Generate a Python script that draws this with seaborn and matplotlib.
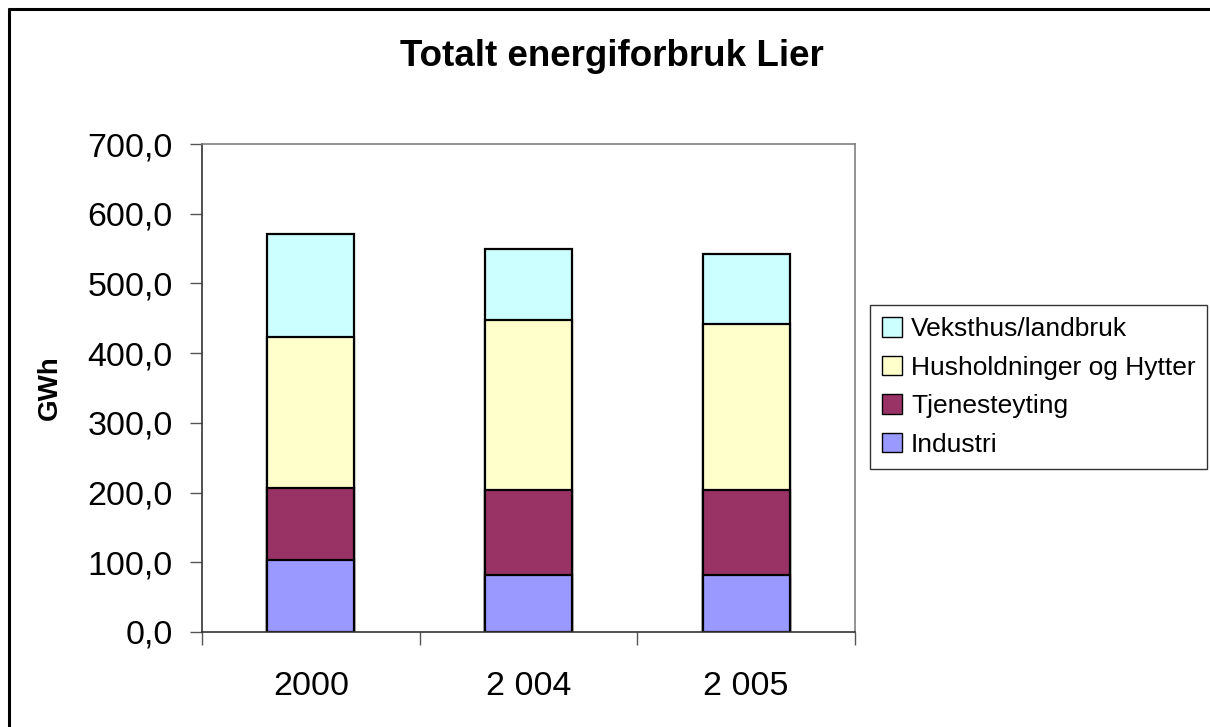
import numpy as np
import pandas as pd
import matplotlib
matplotlib.use("Agg")
import matplotlib.pyplot as plt
import seaborn as sns
from matplotlib.patches import Patch
from matplotlib.lines import Line2D

years = ["2000", "2 004", "2 005"]
industri = [103.5, 82.4, 82.4]
tjenesteyting = [102.5, 121.2, 121.2]
husholdninger = [217.6, 243.9, 238.2]
veksthus = [148.0, 102.5, 100.1]

series_names = ["Industri", "Tjenesteyting", "Husholdninger og Hytter", "Veksthus/landbruk"]
series_values = [industri, tjenesteyting, husholdninger, veksthus]
colors = ["#9999FF", "#993366", "#FFFFCC", "#CCFFFF"]
yticks = [0, 100, 200, 300, 400, 500, 600, 700]

sns.set_style("white")
plt.rcParams["font.family"] = ["Liberation Sans", "DejaVu Sans"]
plt.rcParams["text.color"] = "black"
plt.rcParams["axes.labelcolor"] = "black"
plt.rcParams["xtick.color"] = "black"
plt.rcParams["ytick.color"] = "black"

fig = plt.figure(figsize=(12.10, 7.27), dpi=100)
ax = fig.add_axes([202/1210, 1-632/727, (855-202)/1210, (632-144)/727])

cum = np.cumsum(np.array(series_values), axis=0)
# draw from the top-most cumulative down so lower segments overlay
for i in range(len(series_names) - 1, -1, -1):
    df = pd.DataFrame({"year": years, "value": cum[i]})
    sns.barplot(data=df, x="year", y="value", color=colors[i], width=0.4,
                edgecolor="black", linewidth=1.6, saturation=1, ax=ax, order=years)

ax.set_ylim(0, 700)
ax.set_xlim(-0.5, 2.5)
ax.set_yticks(yticks)
ax.set_yticklabels([f"{v:.1f}".replace(".", ",") for v in yticks], fontsize=24.5)
ax.set_xticks([0, 1, 2])
ax.set_xticklabels(years, fontsize=24.5)
ax.tick_params(axis="x", length=0, pad=28, labelcolor="black")
ax.tick_params(axis="y", length=9, width=1, color="#555555", pad=12, left=True,
               labelcolor="black")
# category boundary ticks on x axis
ax.set_xticks([-0.5, 0.5, 1.5, 2.5], minor=True)
ax.tick_params(axis="x", which="minor", length=9, width=1, color="#555555", bottom=True)
ax.set_xlabel("")
ax.set_ylabel("GWh", fontsize=20, fontweight="bold", labelpad=18, color="black")
for side in ["top", "right"]:
    ax.spines[side].set_visible(True)
    ax.spines[side].set_color("#808080")
    ax.spines[side].set_linewidth(1.2)
for side in ["left", "bottom"]:
    ax.spines[side].set_color("#333333")
    ax.spines[side].set_linewidth(1.2)

fig.text(612/1210, 1-56/727, "Totalt energiforbruk Lier", ha="center", va="center",
         fontsize=26.5, fontweight="bold", color="black")

handles = [Patch(facecolor=colors[i], edgecolor="black", linewidth=1.0, label=series_names[i])
           for i in range(len(series_names) - 1, -1, -1)]
leg = fig.legend(handles=handles, loc="center left",
                 bbox_to_anchor=(870/1210, 1-387/727), fontsize=19,
                 frameon=True, fancybox=False, shadow=False,
                 handlelength=0.75, handleheight=0.75, handletextpad=0.35,
                 labelspacing=0.55, borderpad=0.45, borderaxespad=0)
leg.get_frame().set_edgecolor("black")
leg.get_frame().set_linewidth(1.0)
for t in leg.get_texts():
    t.set_color("black")

# outer chart-area border (left and top visible)
fig.add_artist(Line2D([9/1210, 9/1210], [0, 1-9/727], transform=fig.transFigure,
                      color="black", linewidth=2.2))
fig.add_artist(Line2D([9/1210, 1], [1-9/727, 1-9/727], transform=fig.transFigure,
                      color="black", linewidth=2.2))

fig.savefig("out.png", dpi=100)
